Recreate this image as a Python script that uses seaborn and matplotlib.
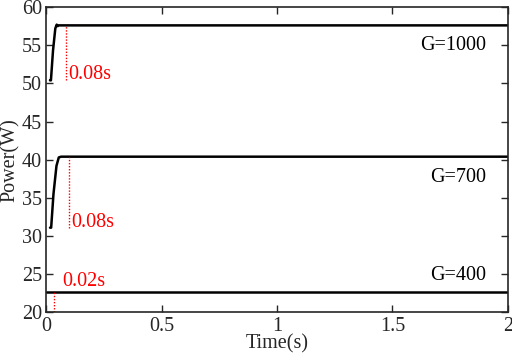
import pandas as pd
import seaborn as sns
import matplotlib.pyplot as plt

# curve data
t_1000 = [0.017, 0.021, 0.03, 0.04, 0.046, 0.05, 0.055, 2.0]
p_1000 = [50.4, 50.4, 54.3, 57.2, 57.7, 57.5, 57.6, 57.6]
t_700 = [0.017, 0.022, 0.032, 0.045, 0.055, 0.065, 2.0]
p_700 = [31.1, 31.1, 35.5, 39.2, 40.3, 40.4, 40.4]
t_400 = [0.0, 2.0]
p_400 = [22.7, 22.7]

# settling markers
mark_x = [0.088, 0.098, 0.036]
mark_top = [57.6, 40.4, 22.7]
mark_bot = [50.5, 31.1, 20.0]
mark_labels = ['0.08s', '0.08s', '0.02s']
label_pos = [(0.098, 51.2), (0.108, 31.8), (0.072, 24.1)]

g_labels = ['G=1000', 'G=700', 'G=400']
g_y = [55.0, 37.7, 24.8]

frames = []
for name, t, p in [('1000', t_1000, p_1000), ('700', t_700, p_700), ('400', t_400, p_400)]:
    frames.append(pd.DataFrame({'Time': t, 'Power': p, 'G': name}))
df = pd.concat(frames, ignore_index=True)

sns.set_style('ticks')
plt.rcParams['font.family'] = ['Liberation Serif', 'DejaVu Serif']

fs = 14.5
fig = plt.figure(figsize=(5.12, 3.53), dpi=100)
ax = fig.add_axes([0.09, 0.115, 0.902, 0.865])

sns.lineplot(data=df, x='Time', y='Power', units='G', estimator=None,
             color='black', linewidth=1.8, sort=False, ax=ax)

for x, top, bot in zip(mark_x, mark_top, mark_bot):
    ax.plot([x, x], [bot, top], color='red', linestyle=(0, (1, 1.2)), linewidth=1.0)
for lab, (lx, ly) in zip(mark_labels, label_pos):
    ax.text(lx, ly, lab, color='red', fontsize=fs, ha='left', va='center')
for lab, gy in zip(g_labels, g_y):
    ax.text(1.905, gy, lab, color='black', fontsize=fs, ha='right', va='center')

ax.set_xlim(0, 2)
ax.set_ylim(20, 60)
ax.set_xticks([0, 0.5, 1, 1.5, 2])
ax.set_xticklabels(['0', '0.5', '1', '1.5', '2'])
ax.set_yticks([20, 25, 30, 35, 40, 45, 50, 55, 60])
ax.tick_params(direction='in', top=True, right=True, labelsize=fs, length=5, width=1, pad=3)
for s in ax.spines.values():
    s.set_linewidth(1.2)
ax.set_xlabel('Time(s)', fontsize=fs, labelpad=-1)
ax.set_ylabel('Power(W)', fontsize=fs, labelpad=1)

plt.savefig('out.png', dpi=100)
plt.close()
